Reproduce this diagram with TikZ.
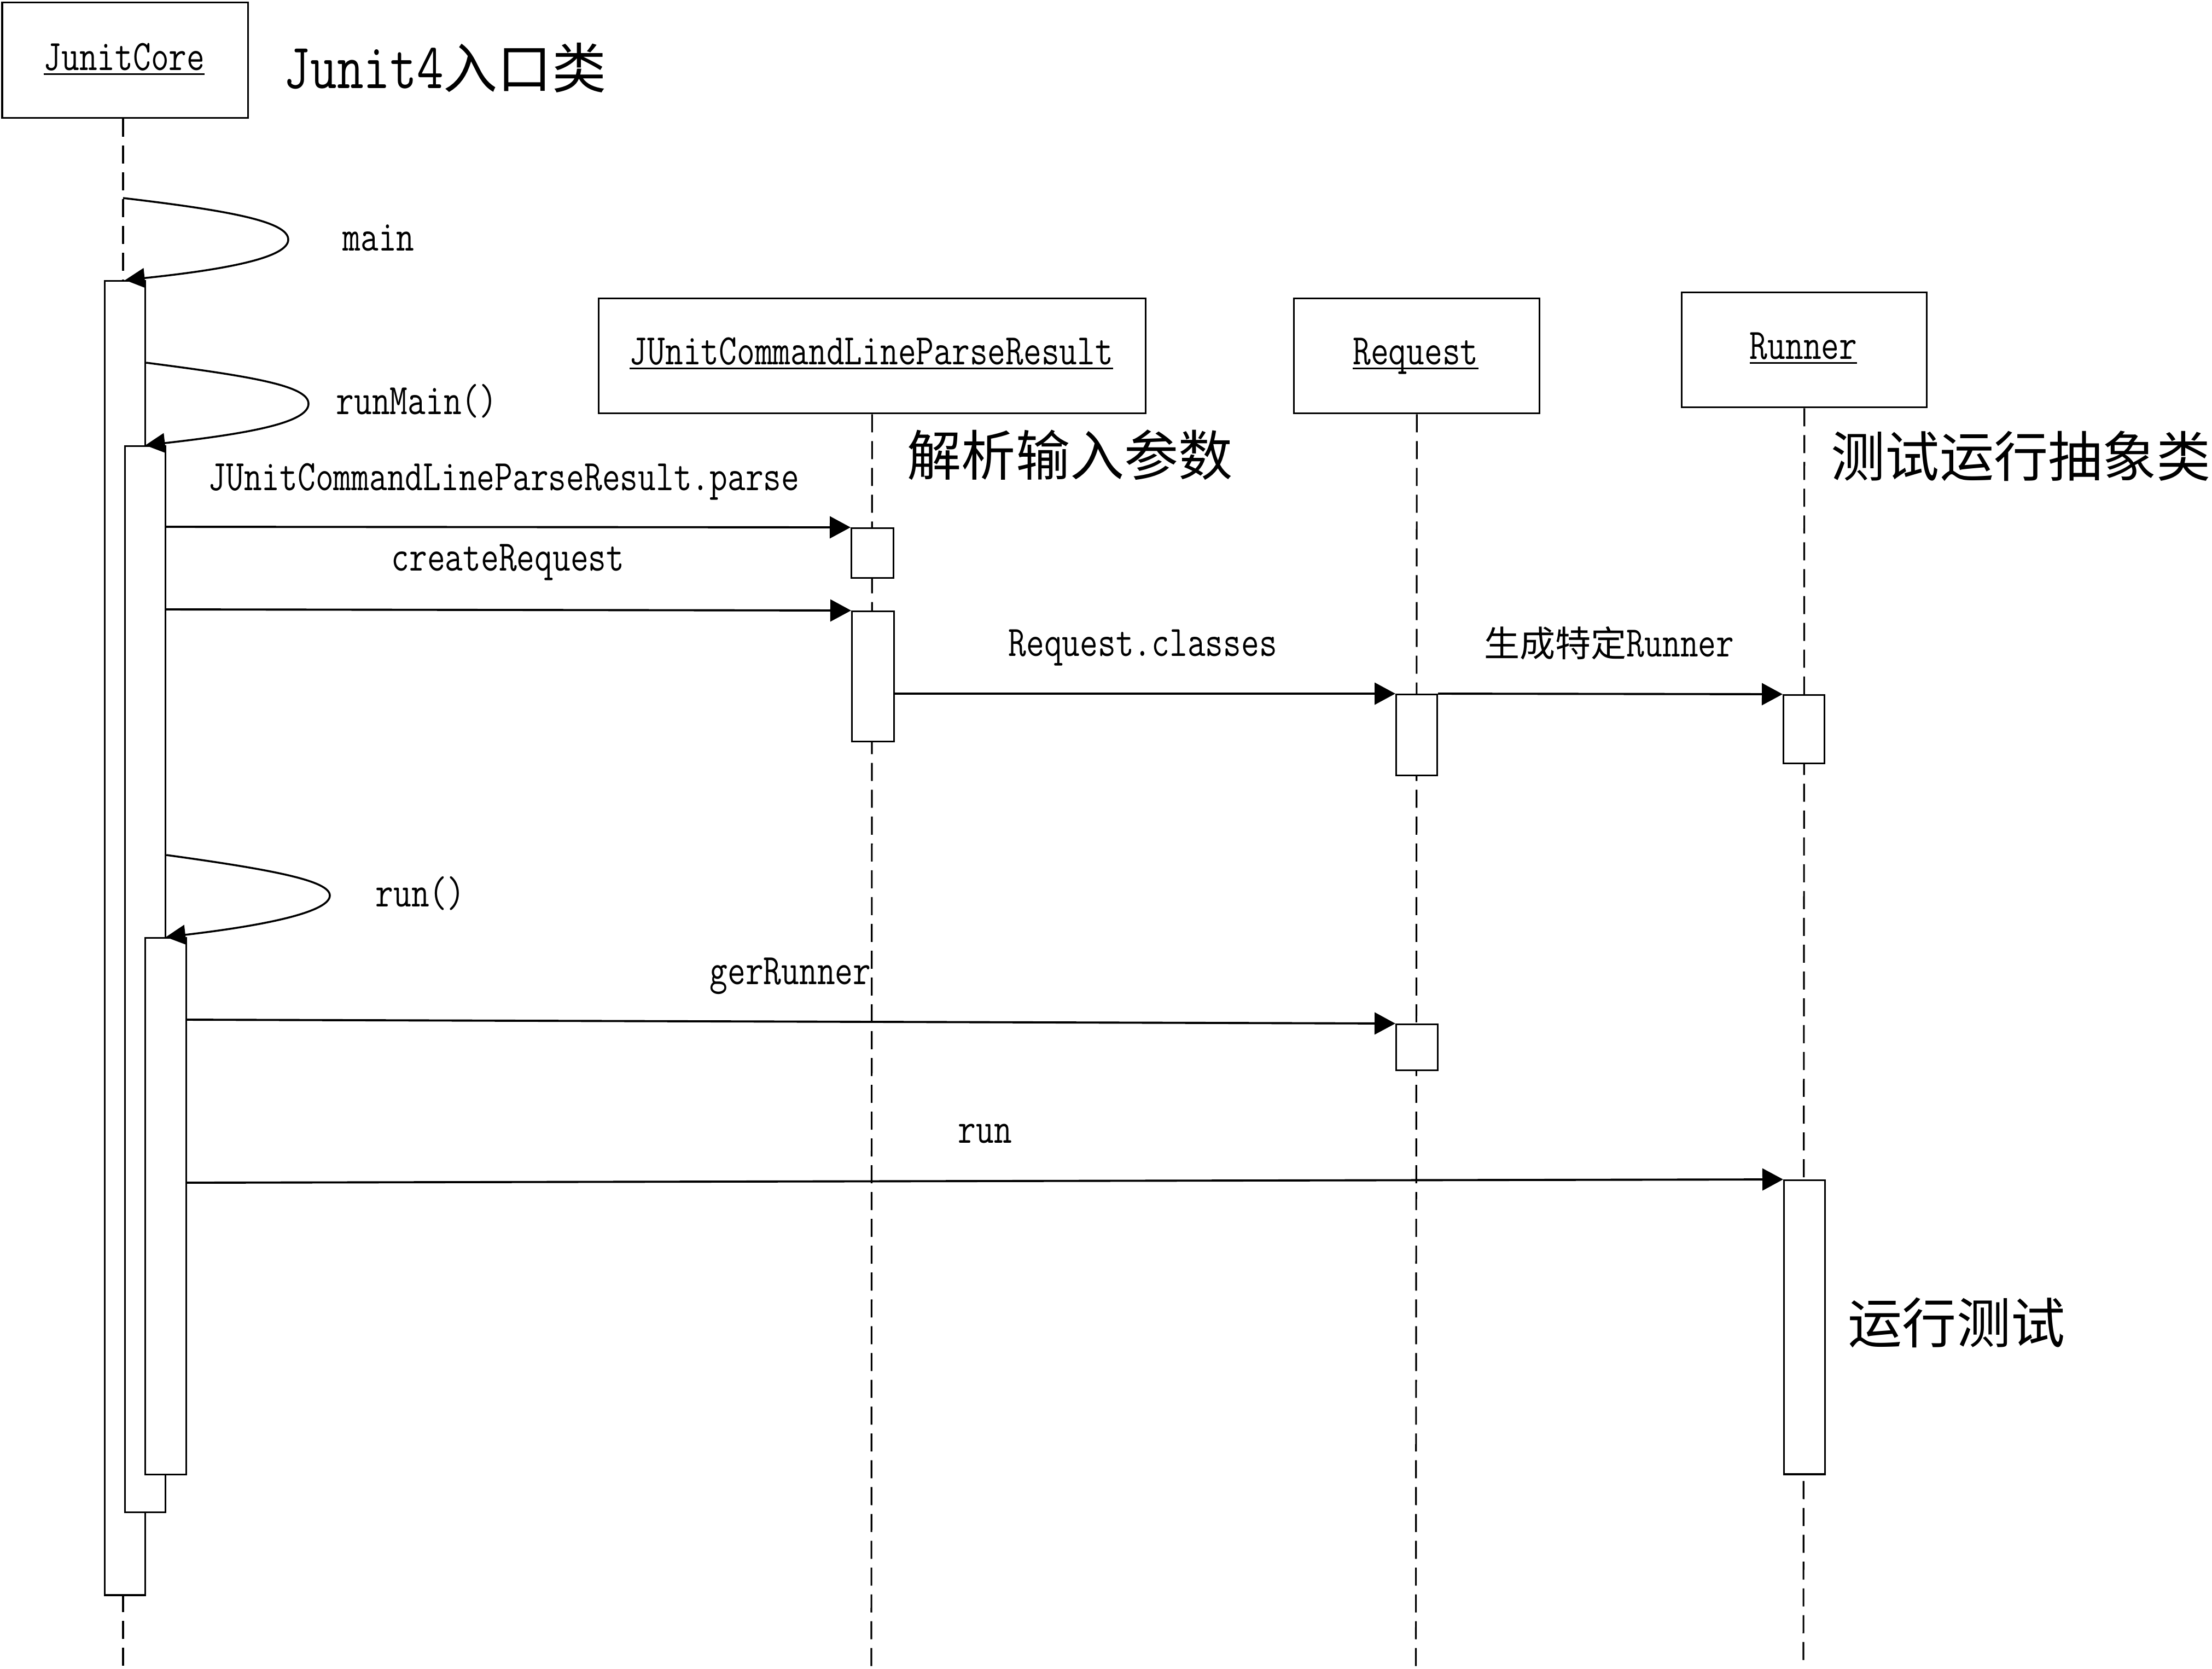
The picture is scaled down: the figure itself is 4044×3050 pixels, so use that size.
\documentclass[tikz,border=0pt]{standalone}
\usepackage{fontspec}
\newfontfamily\cjk{Noto Sans CJK SC}
\usetikzlibrary{arrows.meta}
\newcommand\tx[1]{\scalebox{0.8}[1]{\ttfamily\fontsize{22.6}{24}\selectfont #1}}
\newcommand\bigtx[1]{\scalebox{0.8}[1]{\ttfamily\fontsize{33.6}{36}\selectfont #1}}
\newcommand\smallcjk{\cjk\fontsize{18.5}{20}\selectfont}
\newcommand\bigcjk{\cjk\fontsize{28.2}{30}\selectfont}
\newcommand\ulab[1]{\setbox0\hbox{#1}\rlap{\rule[-2.5pt]{\wd0}{0.85pt}}\box0}
\begin{document}
\begin{tikzpicture}[x=0.01cm,y=-0.01cm,
  head/.style={draw, line width=0.9pt, rectangle, inner sep=0pt, anchor=north west},
  bar/.style={draw, fill=white, line width=0.9pt, rectangle, inner sep=0pt, anchor=north west},
  life/.style={line width=0.9pt, dash pattern=on 0.33cm off 0.16cm},
  msg/.style={line width=1.1pt, -{Triangle[length=0.38cm,width=0.4cm]}},
  selfmsg/.style={line width=1pt, -{Triangle[length=0.36cm,width=0.36cm]}},
  lab/.style={anchor=base west, inner sep=0pt},
  headlab/.style={anchor=base, inner sep=0pt}]
\fill[white] (0,0) rectangle (4044,3050);
\useasboundingbox (0,0) rectangle (4044,3050);

% lifeline heads
\node[head, minimum width=4.495cm, minimum height=2.115cm] (jc) at (2.5,2.5) {};
\node[head, minimum width=9.99cm, minimum height=2.10cm] (cl) at (1093,544) {};
\node[head, minimum width=4.49cm, minimum height=2.10cm] (rq) at (2364,544) {};
\node[head, minimum width=4.48cm, minimum height=2.10cm] (rn) at (3073,533) {};

\node[headlab] (jct) at (227,128) {\ulab{\tx{JunitCore}}};
\node[headlab] (clt) at (1593,666) {\ulab{\tx{JUnitCommandLineParseResult}}};
\node[headlab] (rqt) at (2588,666) {\ulab{\tx{Request}}};
\node[headlab] (rnt) at (3297,656) {\ulab{\tx{Runner}}};

% lifelines
\coordinate (jcEnd) at (225,3050);
\coordinate (clEnd) at (1593,3050);
\coordinate (rqEnd) at (2588.5,3050);
\coordinate (rnEnd) at (3297,3050);
\draw[life] (jc.south -| jcEnd) -- (jcEnd);
\draw[life] (cl.south) -- (clEnd);
\draw[life] (rq.south) -- (rqEnd);
\draw[life] (rn.south) -- (rnEnd);

% activation bars
\node[bar, minimum width=0.74cm, minimum height=24.01cm] (a1) at (190,512) {};
\node[bar, minimum width=0.74cm, minimum height=19.48cm] (a2) at (227,814) {};
\node[bar, minimum width=0.75cm, minimum height=9.80cm] (a3) at (264,1713) {};
\node[bar, minimum width=0.77cm, minimum height=0.91cm] (p1) at (1555,964) {};
\node[bar, minimum width=0.77cm, minimum height=2.38cm] (p2) at (1556,1116) {};
\node[bar, minimum width=0.75cm, minimum height=1.48cm] (r1) at (2551,1268) {};
\node[bar, minimum width=0.76cm, minimum height=0.84cm] (r2) at (2551,1871) {};
\node[bar, minimum width=0.75cm, minimum height=1.25cm] (u1) at (3259,1269) {};
\node[bar, minimum width=0.75cm, minimum height=5.37cm] (u2) at (3260,2156) {};

% self messages
\coordinate (mainStart) at (225,362);
\draw[selfmsg] (mainStart) .. controls (420,385) and (527,405) .. (527,438)
  .. controls (527,470) and (420,492) .. (a1.north);
\draw[selfmsg] (a1.east |- 0,663) .. controls (460,688) and (564,705) .. (564,738)
  .. controls (564,772) and (460,792) .. (a2.north);
\draw[selfmsg] (a2.east |- 0,1563) .. controls (500,1590) and (603,1610) .. (603,1637)
  .. controls (603,1665) and (500,1690) .. (a3.north);

% messages
\draw[msg] (a2.east |- 0,963) -- (p1.north west);
\draw[msg] (a2.east |- 0,1114) -- (p2.north west);
\draw[msg] (p2.east |- 0,1268) -- (r1.north west);
\draw[msg] (r1.north east) -- (u1.north west);
\draw[msg] (a3.east |- 0,1864) -- (r2.north west);
\draw[msg] (a3.east |- 0,2162) -- (u2.north west);

% message labels
\node[lab] (lMain) at (626,458) {\tx{main}};
\node[lab] (lRunMain) at (614,757) {\tx{runMain()}};
\node[lab] (lParse) at (380,896) {\tx{JUnitCommandLineParseResult.parse}};
\node[lab] (lCreate) at (715,1043) {\tx{createRequest}};
\node[lab] (lClasses) at (1843,1199) {\tx{Request.classes}};
\node[lab] (lGen) at (2713,1200) {{\smallcjk 生成特定}\tx{Runner}};
\node[lab] (lRun1) at (686,1657) {\tx{run()}};
\node[lab] (lGer) at (1297,1799) {\tx{gerRunner}};
\node[lab] (lRun2) at (1751,2089) {\tx{run}};

% notes
\node[lab] (nJunit) at (518,161) {\bigtx{Junit4}{\bigcjk 入口类}};
\node[lab, font=\bigcjk] (nParse) at (1658,869) {解析输入参数};
\node[lab, font=\bigcjk] (nRunner) at (3347,871) {测试运行抽象类};
\node[lab, font=\bigcjk] (nTest) at (3378,2455) {运行测试};
\end{tikzpicture}
\end{document}
